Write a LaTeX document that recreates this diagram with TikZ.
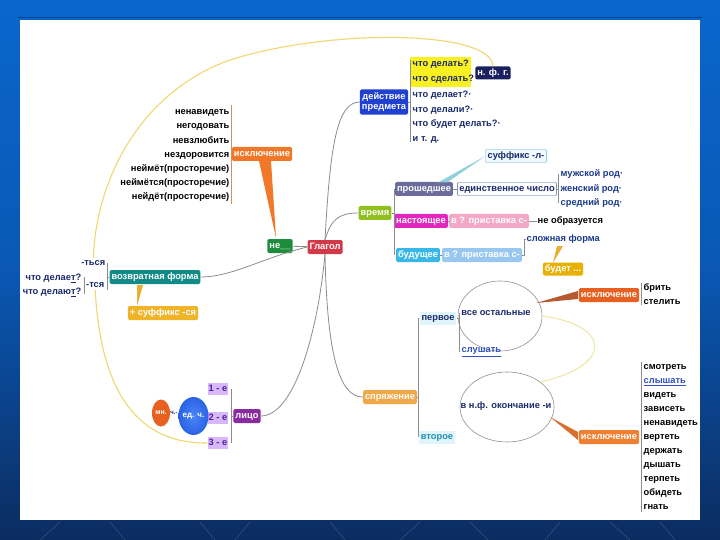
\documentclass[tikz,border=0pt]{standalone}
\usepackage{fontspec}
\setmainfont{Liberation Sans}
\usetikzlibrary{shapes.geometric}
\definecolor{bgtop}{HTML}{0A66CC}
\definecolor{bgmid}{HTML}{0A58B4}
\definecolor{bgbot}{HTML}{0B2C60}
\definecolor{topline}{HTML}{004A9A}
\definecolor{conn}{HTML}{8C8C8C}
\definecolor{navy}{HTML}{1A2A6A}
\definecolor{dblue}{HTML}{1A3A8A}
\definecolor{loopy}{HTML}{F0D870}
\definecolor{loopl}{HTML}{F0E8A8}
\definecolor{cred}{HTML}{D23A4A}
\definecolor{cgreen}{HTML}{1E8C3C}
\definecolor{corange}{HTML}{F07828}
\definecolor{cbrk}{HTML}{D09060}
\definecolor{cblue}{HTML}{2040D0}
\definecolor{cnfg}{HTML}{1A2060}
\definecolor{cyel}{HTML}{F8F020}
\definecolor{clime}{HTML}{90C020}
\definecolor{cpast}{HTML}{6C6C9C}
\definecolor{cpres}{HTML}{E028C0}
\definecolor{cfut}{HTML}{38B8E8}
\definecolor{cedborder}{HTML}{4060A0}
\definecolor{csuffbg}{HTML}{EEFAFF}
\definecolor{csuffbd}{HTML}{60B0D0}
\definecolor{csuffw}{HTML}{90D0D8}
\definecolor{cpink}{HTML}{F4A8C8}
\definecolor{clblue}{HTML}{98C8F0}
\definecolor{cgold}{HTML}{E8B000}
\definecolor{cgoldw}{HTML}{E8B030}
\definecolor{csp}{HTML}{F0A848}
\definecolor{ccyanbg}{HTML}{E0F4FC}
\definecolor{cvtor}{HTML}{2090B0}
\definecolor{cell}{HTML}{909090}
\definecolor{cexcl}{HTML}{E86020}
\definecolor{cw2}{HTML}{B85A30}
\definecolor{cexcl3}{HTML}{EE8030}
\definecolor{cw3}{HTML}{D87030}
\definecolor{cpurple}{HTML}{8A2AA0}
\definecolor{clav}{HTML}{D8B8F8}
\definecolor{clavt}{HTML}{5020A0}
\definecolor{cedch}{HTML}{2A62E6}
\definecolor{cedchl}{HTML}{4A86F4}
\definecolor{cteal}{HTML}{128A86}
\definecolor{csuffsya}{HTML}{F0B428}
\definecolor{clink}{HTML}{3050C0}
\newcommand\bfs{\fontsize{9.3}{10.5}\selectfont\bfseries}
\tikzset{
  box/.style={rounded corners=1.5pt, inner xsep=2pt, inner ysep=1.5pt, minimum height=14pt, text height=7pt, text depth=2pt, text=white, font=\bfs},
  word/.style={inner sep=0.5pt, text height=7pt, text depth=2pt, font=\bfs, text=black},
  qword/.style={inner sep=0.5pt, text height=7pt, text depth=2pt, font=\bfs, text=navy},
  link/.style={draw=conn, line width=0.8pt},
  brk/.style={draw=conn, line width=0.5pt},
  yloop/.style={draw=loopy, line width=1.1pt},
}
\begin{document}
\begin{tikzpicture}[x=1pt,y=-1pt]
\useasboundingbox (0,0) rectangle (720,540);
\shade[top color=bgtop, bottom color=bgbot, middle color=bgmid] (0,0) rectangle (720,540);
\foreach \a/\b in {60/40,110/125,200/215,250/235,330/345,420/400,470/488,560/545,610/630,660/675}
  \draw[white, opacity=0.18, line width=0.5pt] (\a,522) -- (\b,540);
\draw[topline, line width=1pt] (18,17.5) -- (702,17.5);
\fill[white] (20,20) rectangle (700,520);

% ---------- central ----------
\node[box, fill=cred] (glagol) at (325,247) {Глагол};
\node[box, fill=cgreen] (ne) at (280,246) {не\_\_};
\draw[link] (ne) -- (glagol);

% ---------- исключение (не) ----------
\node[box, fill=corange] (excl1) at (262,154) {исключение};
\fill[corange] (259,161) -- (271,161) -- (276,238) -- cycle;
\draw[brk, draw=cbrk] (231,105) -- (231,204);
\foreach \w/\y in {ненавидеть/112, негодовать/126, невзлюбить/141, нездоровится/155,
  неймёт(просторечие)/169, неймётся(просторечие)/183, нейдёт(просторечие)/197}
  \node[word, anchor=east] at (230,\y) {\w};

% ---------- действие предмета ----------
\node[box, fill=cblue, align=center, inner ysep=3pt, text height=, text depth=] (dp) at (384,102) {действие\\предмета};
\draw[link] (glagol.north) .. controls (330,150) and (336,102) .. (dp.west);
\fill[cyel] (410,57) rectangle (471,87);
\draw[brk] (dp.east) -- (410,102);
\draw[brk] (410,60) -- (410,142);
\node[qword, anchor=west] (q1) at (412,64) {что делать?};
\node[qword, anchor=west] (q2) at (412,79) {что сделать?};
\node[qword, anchor=west] (q3) at (412,95) {что делает?·};
\node[qword, anchor=west] (q4) at (412,110) {что делали?·};
\node[qword, anchor=west] (q5) at (412,124) {что будет делать?·};
\node[qword, anchor=west] (q6) at (412,139) {и т. д.};
\node[box, fill=cnfg, minimum height=13pt] (nfg) at (493,73) {н. ф. г.};

% big yellow loop
\node[qword, anchor=east] (tsya1) at (106,263) {-ться};
\node[qword, anchor=east] (tsya2) at (105,285) {-тся};
\draw[yloop] (nfg.north) .. controls (492,30) and (330,28) .. (230,60)
  .. controls (140,92) and (96,180) .. (tsya1.north);

% ---------- время ----------
\node[box, fill=clime] (vremya) at (375,213) {время};
\draw[link] (glagol.north) .. controls (331,220) and (338,213) .. (vremya.west);
\node[box, fill=cpast] (past) at (424,189) {прошедшее};
\node[box, fill=cpres] (pres) at (421,221) {настоящее};
\node[box, fill=cfut] (fut) at (418,255) {будущее};
\draw[brk] (vremya.east) -- (394,213);
\draw[brk] (394,189) -- (394,255);
\node[box, fill=white, draw=cedborder, text=navy, rounded corners=1pt, minimum height=13pt] (ed) at (507,189) {единственное число};
\draw[brk] (past.east) -- (ed.west);
\draw[brk] (558,174) -- (558,203);
\draw[brk] (ed.east) -- (558,189);
\node[qword, text=dblue, anchor=west] (m1) at (560,174) {мужской род·};
\node[qword, text=dblue, anchor=west] (m2) at (560,189) {женский род·};
\node[qword, text=dblue, anchor=west] (m3) at (560,203) {средний род·};
\node[box, fill=csuffbg, draw=csuffbd, text=navy, rounded corners=1pt, minimum height=13pt] (suff) at (516,156) {суффикс -л-};
\fill[csuffw] (438,182.5) -- (447,182.5) -- (suff.west) -- cycle;
\node[box, fill=cpink] (pres2) at (489,221) {в ? приставка с-};
\draw[brk] (pres.east) -- (pres2.west);
\node[word, anchor=west] (neobr) at (537,221) {не образуется};
\draw[brk] (pres2.east) -- (neobr.west);
\node[box, fill=clblue] (fut2) at (482,255) {в ? приставка с-};
\draw[brk] (fut.east) -- (fut2.west);
\draw[brk] (fut2.east) -- (524,255) -- (524,239);
\node[qword, text=dblue, anchor=west] (slozh) at (526,239) {сложная форма};
\draw[brk] (524,239) -- (slozh.west);
\node[box, fill=cgold, minimum height=13pt] (budet) at (563,269) {будет ...};
\fill[cgoldw] (557,246) -- (563,246) -- (553,263) -- cycle;

% ---------- спряжение ----------
\node[box, fill=csp] (sp) at (390,397) {спряжение};
\draw[link] (glagol.south) .. controls (327,350) and (338,397) .. (sp.west);
\draw[brk] (sp.east) -- (418,397);
\draw[brk] (418,318) -- (418,437);
\node[box, fill=ccyanbg, text=navy, rounded corners=0pt, minimum height=13pt] (pervoe) at (438,318) {первое};
\node[box, fill=ccyanbg, text=cvtor, rounded corners=0pt, minimum height=13pt] (vtoroe) at (437,437) {второе};
\node[ellipse, draw=cell, line width=0.6pt, minimum width=84pt, minimum height=70pt, inner sep=0pt] (ell1) at (500,316) {};
\node[qword, text=navy] (vseost) at (496,313) {все остальные};
\draw[brk] (pervoe.east) -- (459,318);
\draw[brk] (459,313) -- (459,352);
\node[qword, text=clink, anchor=west] (slushat) at (461,350) {\underline{слушать}};
\node[ellipse, draw=cell, line width=0.6pt, minimum width=94pt, minimum height=70pt, inner sep=0pt] (ell2) at (507,407) {};
\node[qword, text=navy] (vnf) at (506,406) {в н.ф. окончание -и};
\draw[draw=loopl, line width=1.1pt] (ell1.east) .. controls (610,325) and (615,365) .. (ell2.north east);

\node[box, fill=cexcl] (excl2) at (609,295) {исключение};
\fill[cw2] (536,303) -- (578,291) -- (578,299) -- cycle;
\draw[brk] (641,283) -- (641,305);
\node[word, anchor=west] (w1) at (643,288) {брить};
\node[word, anchor=west] (w2) at (643,302) {стелить};
\node[box, fill=cexcl3] (excl3) at (609,437) {исключение};
\fill[cw3] (550,417) -- (578,432) -- (578,440) -- cycle;
\draw[brk] (641,362) -- (641,512);
\foreach \w [count=\i from 0] in {смотреть, \textcolor{clink}{\underline{слышать}}, видеть, зависеть, ненавидеть, вертеть, держать, дышать, терпеть, обидеть, гнать}
  \node[word, anchor=west] at (643,367+14*\i) {\w};

% ---------- лицо ----------
\node[box, fill=cpurple] (lico) at (247,416) {лицо};
\draw[link] (glagol.south) .. controls (318,330) and (295,416) .. (lico.east);
\draw[brk] (lico.west) -- (231,416);
\draw[brk] (231,389) -- (231,443);
\node[box, fill=clav, text=clavt, rounded corners=0pt, minimum height=12pt, inner xsep=1pt] (l1) at (218,389) {1 - е};
\node[box, fill=clav, text=clavt, rounded corners=0pt, minimum height=12pt, inner xsep=1pt] (l2) at (218,418) {2 - е};
\node[box, fill=clav, text=clavt, rounded corners=0pt, minimum height=12pt, inner xsep=1pt] (l3) at (218,443) {3 - е};
\node[ellipse, fill=cexcl, minimum width=18pt, minimum height=27pt, inner sep=0pt] (mn) at (161,413) {};
\node[inner sep=0pt, text=white, font=\fontsize{7}{8}\selectfont\bfseries] (mnt) at (161,413) {мн.};
\node[inner sep=0pt, font=\fontsize{6}{7}\selectfont\bfseries, text=navy] (chl) at (174,413) {ч.-};
\node[ellipse, inner color=cedchl, outer color=cedch, minimum width=30pt, minimum height=38pt, inner sep=0pt] (edch) at (193.5,416) {};
\node[inner sep=0pt, text=white, font=\fontsize{8}{9}\selectfont\bfseries] (edcht) at (193.5,416) {ед. ч.};

% ---------- возвратная форма ----------
\node[box, fill=cteal] (vf) at (155,277) {возвратная форма};
\draw[link] (glagol.west) .. controls (262,258) and (232,277) .. (vf.east);
\draw[brk] (vf.west) -- (107,277);
\draw[brk] (107,263) -- (107,290);
\draw[brk] (tsya2.west) -- (84,285);
\draw[brk] (84,277) -- (84,294);
\node[qword, anchor=east] (qa) at (82,278) {что делае\underline{т}?};
\node[qword, anchor=east] (qb) at (82,292) {что делаю\underline{т}?};
\node[box, fill=csuffsya] (suffsya) at (163,313) {+ суффикс -ся};
\fill[cgoldw] (137,285) -- (143,285) -- (137,306) -- cycle;

% lower yellow loop
\draw[yloop] (tsya2.south) .. controls (100,380) and (130,444) .. (l3.west);
\end{tikzpicture}
\end{document}
